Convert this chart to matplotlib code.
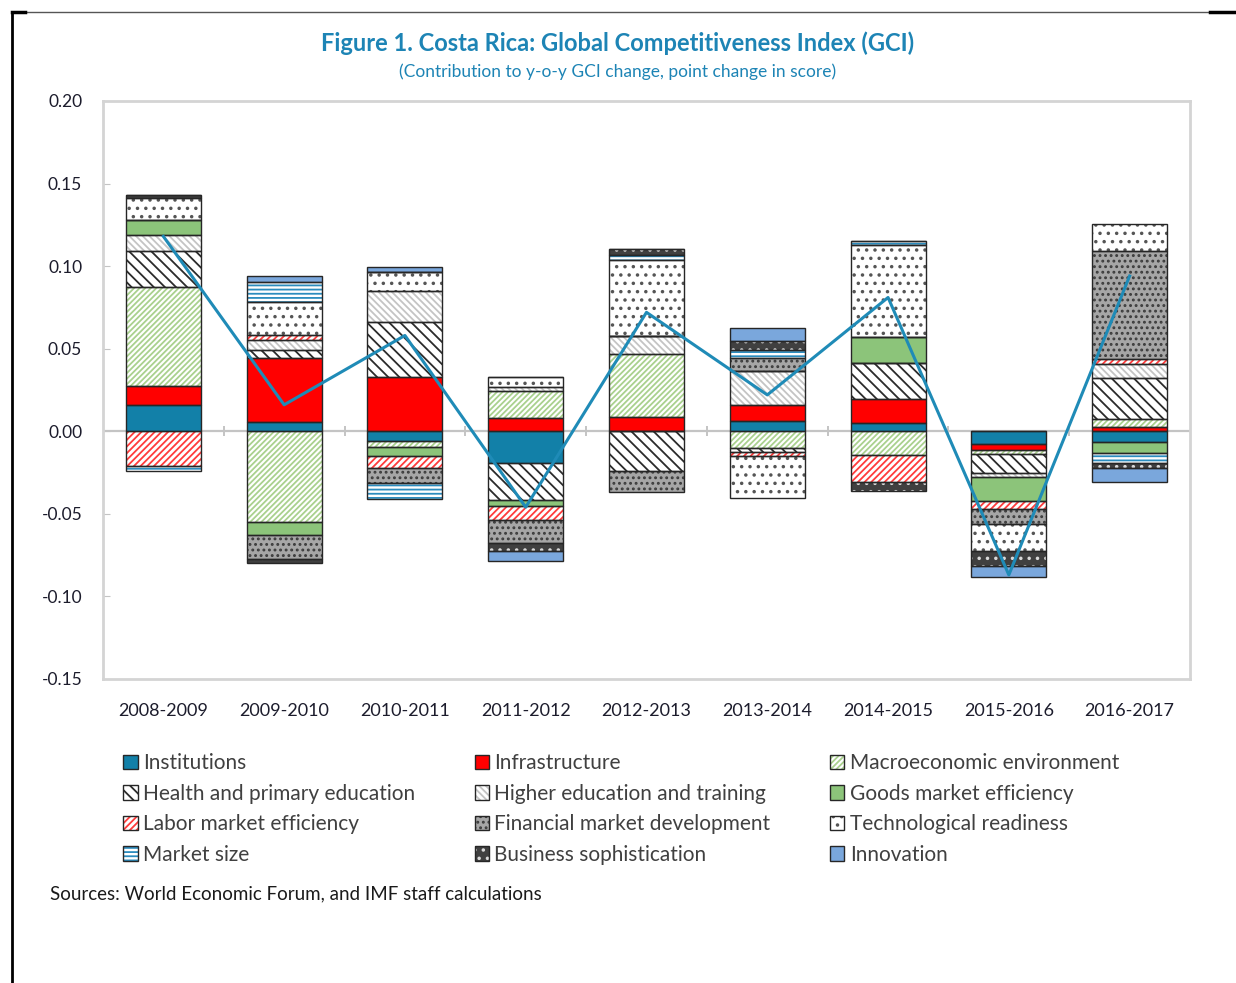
import numpy as np
import matplotlib
matplotlib.use("Agg")
from matplotlib import pyplot as plt
from matplotlib.patches import Patch
from matplotlib.lines import Line2D

plt.rcParams["font.family"] = ["Lato", "DejaVu Sans"]
plt.rcParams["hatch.linewidth"] = 1.3

# Contribution to y-o-y GCI change by pillar (point change in score)
years = ["2008-2009", "2009-2010", "2010-2011", "2011-2012", "2012-2013",
         "2013-2014", "2014-2015", "2015-2016", "2016-2017"]

institutions = [0.016, 0.0055, -0.006, -0.019, 0.0, 0.006, 0.005, -0.0075, -0.0065]
infrastructure = [0.0115, 0.039, 0.033, 0.008, 0.0085, 0.010, 0.0145, -0.004, 0.0025]
macroeconomic = [0.060, -0.055, -0.0035, 0.0165, 0.038, -0.010, -0.0145, -0.0025, 0.005]
health_primary = [0.0217, 0.0045, 0.033, -0.0225, -0.024, -0.0025, 0.022, -0.011, 0.0245]
higher_education = [0.0095, 0.006, 0.0187, 0.002, 0.011, 0.0205, 0.0, -0.003, 0.009]
goods_market = [0.0095, -0.008, -0.0055, -0.0035, 0.0, 0.0, 0.0155, -0.0145, -0.0065]
labor_market = [-0.021, 0.003, -0.0075, -0.0085, 0.0, -0.0025, -0.0165, -0.0045, 0.003]
financial_market = [0.0, -0.0145, -0.009, -0.014, -0.013, 0.008, 0.0, -0.009, 0.065]
tech_readiness = [0.013, 0.0205, 0.0115, 0.0065, 0.046, -0.0255, 0.0555, -0.0165, 0.0165]
market_size = [-0.003, 0.012, -0.0095, 0.0, 0.0035, 0.0045, 0.003, 0.0, -0.0065]
business_soph = [0.002, -0.0025, 0.0, -0.005, 0.0035, 0.0055, -0.005, -0.009, -0.003]
innovation = [0.0, 0.0035, 0.003, -0.006, 0.0, 0.008, 0.0, -0.0065, -0.008]

# Overall GCI change (line)
gci_change = [0.118, 0.016, 0.058, -0.046, 0.072, 0.022, 0.081, -0.087, 0.094]

# name, values, face colour, hatch, hatch colour
pillars = [
    ("Institutions", institutions, "#1280a8", "", "#1280a8"),
    ("Infrastructure", infrastructure, "#ff0000", "", "#ff0000"),
    ("Macroeconomic environment", macroeconomic, "white", "//////", "#a9d18e"),
    ("Health and primary education", health_primary, "white", "\\\\\\", "#2b2b2b"),
    ("Higher education and training", higher_education, "white", "\\\\\\\\\\", "#c4c4c4"),
    ("Goods market efficiency", goods_market, "#8cc47a", "", "#8cc47a"),
    ("Labor market efficiency", labor_market, "white", "/////", "#ff3b3b"),
    ("Financial market development", financial_market, "#a6a6a6", "...", "#3c3c3c"),
    ("Technological readiness", tech_readiness, "white", "..", "#555555"),
    ("Market size", market_size, "white", "----", "#2b8cbe"),
    ("Business sophistication", business_soph, "#404040", "..", "#d9d9d9"),
    ("Innovation", innovation, "#7aa7dc", "", "#7aa7dc"),
]

fig = plt.figure(figsize=(12.36, 9.83), dpi=100)
ax = fig.add_axes([0.0833, 0.3093, 0.8795, 0.588])

x = np.arange(len(years))
width = 0.62
pos_bottom = np.zeros(len(years))
neg_bottom = np.zeros(len(years))

handles = []
for name, vals, face, hatch, hcol in pillars:
    vals = np.array(vals)
    bottom = np.where(vals >= 0, pos_bottom, neg_bottom)
    ax.bar(x, vals, width, bottom=bottom, color=face, hatch=hatch,
           edgecolor=hcol, linewidth=0, zorder=2)
    ax.bar(x, vals, width, bottom=bottom, fill=False,
           edgecolor="#262626", linewidth=1.0, zorder=3)
    pos_bottom += np.where(vals >= 0, vals, 0)
    neg_bottom += np.where(vals < 0, vals, 0)
    handles.append((Patch(facecolor=face, hatch=hatch, edgecolor=hcol, linewidth=0),
                    Patch(fill=False, edgecolor="#262626", linewidth=1.0)))

ax.plot(x, gci_change, color="#1f8bb7", linewidth=2.2, zorder=4)

# zero line with small category ticks
ax.axhline(0, color="#c4c4c4", linewidth=1.6, zorder=1)
ax.vlines(x[:-1] + 0.5, -0.003, 0.003, color="#c4c4c4", linewidth=1.4, zorder=1)

ax.set_xlim(-0.5, len(years) - 0.5)
ax.set_ylim(-0.15, 0.20)
ax.set_yticks(np.arange(-0.15, 0.201, 0.05))
ax.set_yticklabels([f"{v:.2f}" for v in np.arange(-0.15, 0.201, 0.05)])
ax.set_xticks(x)
ax.set_xticklabels(years)
ax.tick_params(axis="y", direction="in", length=5, color="#c4c4c4", pad=15,
               labelsize=12.5, labelcolor="#1c1c2c")
ax.tick_params(axis="x", length=0, pad=17, labelsize=13, labelcolor="#1c1c2c")
for s in ax.spines.values():
    s.set_color("#d4d4d4")
    s.set_linewidth(2)

# legend laid out row by row
order = [i for c in range(3) for i in range(c, 12, 3)]
fig.legend([handles[i] for i in order], [pillars[i][0] for i in order],
           ncol=3, loc="upper left", bbox_to_anchor=(0.093, 0.242),
           frameon=False, fontsize=15, labelcolor="#404040",
           handlelength=0.7, handleheight=0.7, handletextpad=0.25,
           columnspacing=2.85, labelspacing=0.5, borderaxespad=0)

fig.text(0.5, 0.956, "Figure 1. Costa Rica: Global Competitiveness Index (GCI)",
         ha="center", va="center", fontsize=17, fontweight="bold", color="#1d84b5")
fig.text(0.5, 0.927, "(Contribution to y-o-y GCI change, point change in score)",
         ha="center", va="center", fontsize=12.5, color="#1d84b5")
fig.text(0.0405, 0.091, "Sources: World Economic Forum, and IMF staff calculations",
         ha="left", va="center", fontsize=13.5, color="#1a1a1a")

# outer frame
fig.add_artist(Line2D([12 / 1236, 1210 / 1236], [1 - 12 / 983] * 2, color="#555555", linewidth=1))
fig.add_artist(Line2D([1210 / 1236, 1.0], [1 - 12 / 983] * 2, color="black", linewidth=2.5))
fig.add_artist(Line2D([12 / 1236, 25 / 1236], [1 - 12 / 983] * 2, color="black", linewidth=2.5))
fig.add_artist(Line2D([12 / 1236] * 2, [0, 1 - 12 / 983], color="black", linewidth=2))

fig.savefig("out.png", dpi=100)
